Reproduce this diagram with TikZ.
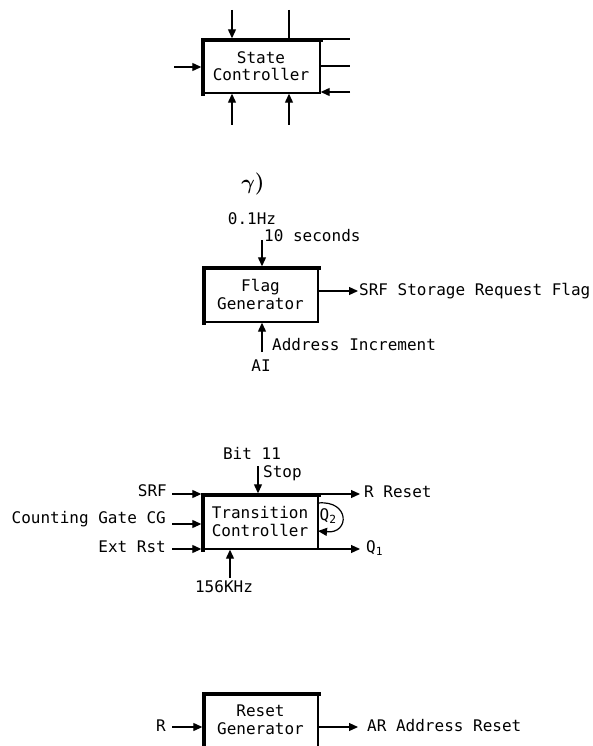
\documentclass[tikz,border=0pt]{standalone}
\usepackage{amsmath}
\usepackage{fontspec}
\newfontfamily\labfont{DejaVu Sans Mono}
\newcommand\labsize{\labfont\fontsize{16}{17.5}\selectfont}
\usetikzlibrary{arrows.meta}
\tikzset{
  lbl/.style={font=\labsize, inner sep=0pt},
  blk/.style={draw, line width=1.4pt, inner sep=0pt, font=\labsize, align=center},
  heavy/.style={line width=4pt, line cap=rect},
  wire/.style={line width=1.2pt},
  arr/.style={line width=1.2pt, -{Triangle[length=9pt,width=8pt]}},
}
\begin{document}
\begin{tikzpicture}[x=1pt,y=-1pt]
\useasboundingbox[fill=white] (0,0) rectangle (592,746);

% ---------------- State Controller ----------------
\node[blk, minimum width=118pt, minimum height=54pt] (sc) at (261,66) {State\\Controller};
\draw[heavy] ([xshift=1.5pt]sc.south west) -- ([xshift=1.5pt,yshift=-1.5pt]sc.north west) -- ([yshift=-1.5pt]sc.north east);
\coordinate (sct1) at (232,10);
\coordinate (sct2) at (289,10);
\coordinate (scl) at (174,67);
\coordinate (scr1) at (350,39);
\coordinate (scr2) at (350,66);
\coordinate (scr3) at (350,92);
\coordinate (scb1) at (232,125);
\coordinate (scb2) at (289,125);
\draw[arr] (sct1) -- (sct1 |- sc.north);
\draw[wire] (sct2) -- (sct2 |- sc.north);
\draw[arr] (scl) -- (scl -| sc.west);
\draw[wire] (sc.east |- scr1) -- (scr1);
\draw[wire] (sc.east |- scr2) -- (scr2);
\draw[arr] (scr3) -- (scr3 -| sc.east);
\draw[arr] (scb1) -- (scb1 |- sc.south);
\draw[arr] (scb2) -- (scb2 |- sc.south);

% ---------------- gamma ----------------
\node[inner sep=0pt] (gam) at (253,184) {\fontsize{22}{22}\selectfont$\boldsymbol{\gamma}$\textbf{)}};

% ---------------- Flag Generator ----------------
\node[blk, minimum width=115pt, minimum height=55pt] (fg) at (260.5,294.5) {Flag\\Generator};
\draw[heavy] ([xshift=1.5pt]fg.south west) -- ([xshift=1.5pt,yshift=-1.5pt]fg.north west) -- ([yshift=-1.5pt]fg.north east);
\node[lbl] (hz) at (252,219) {0.1Hz};
\node[lbl, anchor=west] (ten) at (264,236) {10 seconds};
\coordinate (fgt) at (262,240);
\draw[arr] (fgt) -- (fgt |- fg.north);
\coordinate (fgr) at (358,291);
\draw[arr] (fg.east |- fgr) -- (fgr);
\node[lbl, anchor=west] (srf) at (359,291) {SRF Storage Request Flag};
\coordinate (fgb) at (262,352);
\draw[arr] (fgb) -- (fgb |- fg.south);
\node[lbl, anchor=west] (ai1) at (272,345) {Address Increment};
\node[lbl] (ai2) at (261,366) {AI};

% ---------------- Transition Controller ----------------
\node[blk, minimum width=116pt, minimum height=55pt] (tc) at (260,521.5) {Transition\\Controller};
\draw[heavy] ([xshift=1.5pt]tc.south west) -- ([xshift=1.5pt,yshift=-1.5pt]tc.north west) -- ([yshift=-1.5pt]tc.north east);
\node[lbl] (bit) at (252,453) {Bit 11};
\node[lbl, anchor=west] (stop) at (263,473) {Stop};
\coordinate (tct) at (258,466);
\draw[arr] (tct) -- (tct |- tc.north);
\node[lbl, anchor=east] (isrf) at (167,491) {SRF};
\node[lbl, anchor=east] (icg) at (166,519) {Counting Gate CG};
\node[lbl, anchor=east] (iext) at (166,547) {Ext Rst};
\coordinate (tcl1) at (172,494);
\coordinate (tcl2) at (172,524);
\coordinate (tcl3) at (172,549);
\draw[arr] (tcl1) -- (tcl1 -| tc.west);
\draw[arr] (tcl2) -- (tcl2 -| tc.west);
\draw[arr] (tcl3) -- (tcl3 -| tc.west);
\coordinate (tcr1) at (360,494);
\coordinate (tcr2) at (360,549);
\draw[arr] (tc.east |- tcr1) -- (tcr1);
\draw[arr] (tc.east |- tcr2) -- (tcr2);
\node[lbl, anchor=west] (rr) at (364,492) {R Reset};
\node[lbl, anchor=west] (q1) at (366,548) {Q\textsubscript{1}};
\coordinate (q2s) at (318,503);
\coordinate (q2e) at (318,531);
\draw[arr] (q2s) .. controls (350,500) and (350,534) .. (q2e);
\node[lbl, anchor=west] (q2) at (319.5,516) {Q\textsubscript{2}};
\coordinate (tcb) at (230,578);
\draw[arr] (tcb) -- (tcb |- tc.south);
\node[lbl] (khz) at (224,587) {156KHz};

% ---------------- Reset Generator ----------------
\node[draw, line width=1.4pt, minimum width=115pt, minimum height=67pt, inner sep=0pt] (rg) at (260.5,726.5) {};
\draw[heavy] ([xshift=1.5pt]rg.south west) -- ([xshift=1.5pt,yshift=-1.5pt]rg.north west) -- ([yshift=-1.5pt]rg.north east);
\node[lbl, align=center] (rgt) at (260.5,720) {Reset\\Generator};
\node[lbl] (rin) at (161,726) {R};
\coordinate (rgl) at (172,727);
\draw[arr] (rgl) -- (rgl -| rg.west);
\coordinate (rgr) at (358,727);
\draw[arr] (rg.east |- rgr) -- (rgr);
\node[lbl, anchor=west] (ar) at (367,726) {AR Address Reset};
\end{tikzpicture}
\end{document}
